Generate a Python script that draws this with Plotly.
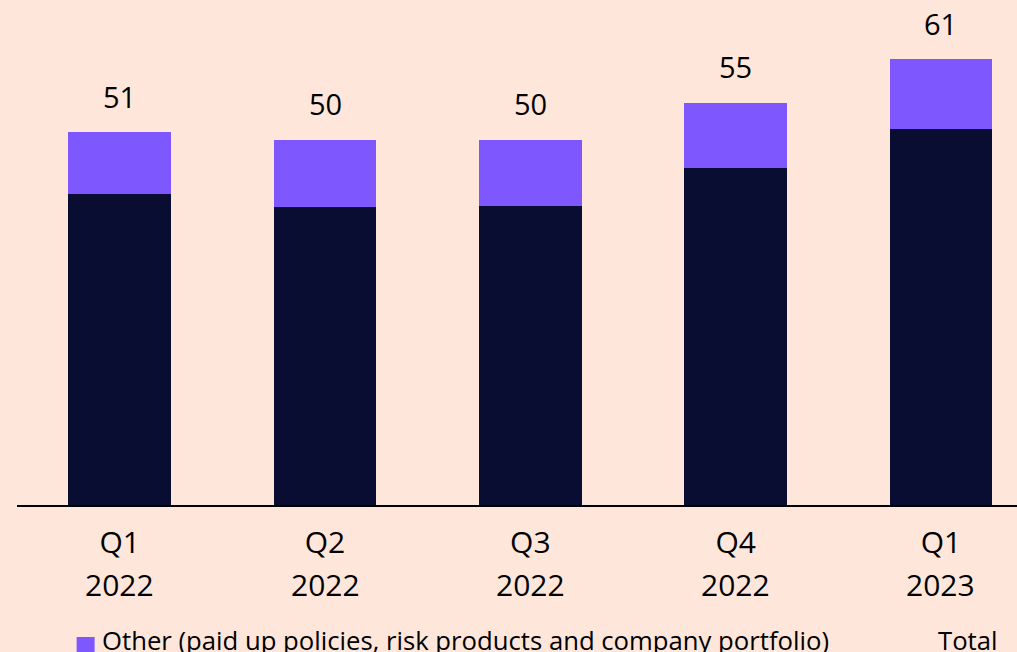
import plotly.graph_objects as go

# Quarterly figures (stacked): core part and "other" part, with stated totals
quarter_labels = ["Q1", "Q2", "Q3", "Q4", "Q1"]
year_labels = ["2022", "2022", "2022", "2022", "2023"]
core = [42.6, 40.8, 40.9, 46.1, 51.4]
totals = [51, 50, 50, 55, 61]
other = [round(t - c, 1) for t, c in zip(totals, core)]

legend_other = "Other (paid up policies, risk products and company portfolio)"
legend_total = "Total"

categories = [f"{q} {y}" for q, y in zip(quarter_labels, year_labels)]

BG = "#FFE6DA"
NAVY = "#0A0D32"
PURPLE = "#7F57FF"
FONT = "Open Sans"

W, H = 1017, 652
ML, MR, MT, MB = 17.4, 0, 0, 147
plot_w = W - ML - MR
plot_h = H - MT - MB

fig = go.Figure()
fig.add_trace(go.Bar(x=categories, y=core, marker_color=NAVY, marker_line_width=0,
                     name="Core", showlegend=False))
fig.add_trace(go.Bar(x=categories, y=other, marker_color=PURPLE, marker_line_width=0,
                     name=legend_other, showlegend=False))


def px_to_paper_x(px):
    return (px - ML) / plot_w


def px_to_paper_y(py):
    return (H - MB - py) / plot_h


# total labels above each stack
for c, t in zip(categories, totals):
    fig.add_annotation(x=c, y=t, text=str(t), showarrow=False,
                       yanchor="middle", yshift=36,
                       font=dict(family=FONT, size=29, color="#000000"))

# second line of the category labels (year)
for c, y in zip(categories, year_labels):
    fig.add_annotation(x=c, xref="x", yref="paper", y=px_to_paper_y(584), text=y,
                       showarrow=False, yanchor="middle",
                       font=dict(family=FONT, size=30, color="#000000"))

# legend row along the bottom edge
fig.add_shape(type="rect", xref="paper", yref="paper",
              x0=px_to_paper_x(77), x1=px_to_paper_x(95),
              y0=px_to_paper_y(637), y1=px_to_paper_y(656),
              fillcolor=PURPLE, line_width=0)
fig.add_annotation(xref="paper", yref="paper", x=px_to_paper_x(100), y=px_to_paper_y(640),
                   text=legend_other, showarrow=False, xanchor="left", yanchor="middle",
                   font=dict(family=FONT, size=25.7, color="#000000"))
fig.add_annotation(xref="paper", yref="paper", x=px_to_paper_x(936), y=px_to_paper_y(640),
                   text=legend_total, showarrow=False, xanchor="left", yanchor="middle",
                   font=dict(family=FONT, size=25.7, color="#000000"))

fig.update_layout(
    width=W, height=H,
    margin=dict(l=ML, r=MR, t=MT, b=MB, pad=0),
    paper_bgcolor=BG, plot_bgcolor=BG,
    barmode="stack", bargap=0.5,
    font=dict(family=FONT, color="#000000"),
)
fig.update_xaxes(range=[-0.5, 4 + (W - 941) / 205.3], showgrid=False, zeroline=False,
                 showline=True, linecolor="#000000", linewidth=1.5,
                 tickvals=categories, ticktext=quarter_labels,
                 ticks="", tickfont=dict(family=FONT, size=30, color="#000000"),
                 ticklabelstandoff=10, fixedrange=True)
fig.update_yaxes(range=[0, plot_h / 7.31], showgrid=False, zeroline=False,
                 showticklabels=False, showline=False, fixedrange=True)

fig.write_html("out.html", config={"displayModeBar": False})
